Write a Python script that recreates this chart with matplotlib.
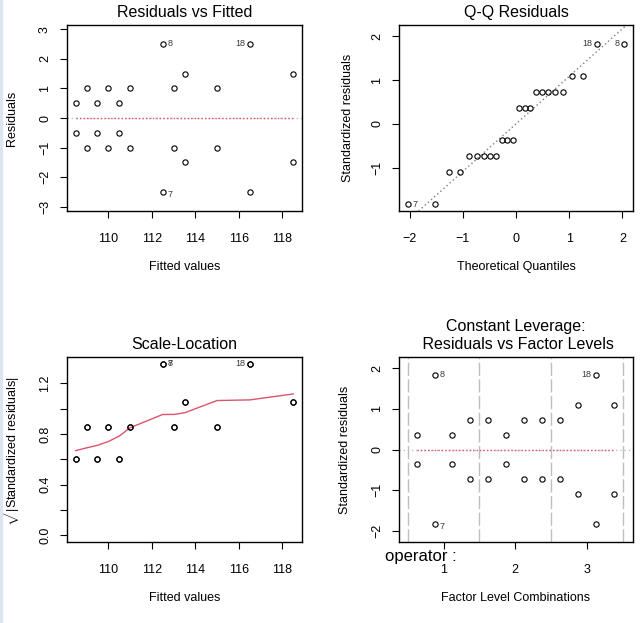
import numpy as np
import matplotlib
matplotlib.use("Agg")
import matplotlib.pyplot as plt
from matplotlib.patches import Rectangle

plt.rcParams["font.family"] = ["Liberation Sans", "DejaVu Sans"]
plt.rcParams["mathtext.fontset"] = "custom"
plt.rcParams["mathtext.rm"] = "Liberation Sans"

# one entry per observation (obs 1..24)
fitted = [108.5, 108.5, 109.5, 109.5, 109.0, 109.0, 112.5, 112.5,
          110.0, 110.0, 110.5, 110.5, 111.0, 111.0, 113.0, 113.0,
          116.5, 116.5, 115.0, 115.0, 113.5, 113.5, 118.5, 118.5]
resid = [0.5, -0.5, 0.5, -0.5, 1.0, -1.0, -2.5, 2.5,
         1.0, -1.0, 0.5, -0.5, 1.0, -1.0, 1.0, -1.0,
         -2.5, 2.5, 1.0, -1.0, 1.5, -1.5, 1.5, -1.5]
std_resid = [0.367, -0.367, 0.367, -0.367, 0.733, -0.733, -1.833, 1.833,
             0.733, -0.733, 0.367, -0.367, 0.733, -0.733, 0.733, -0.733,
             -1.833, 1.833, 0.733, -0.733, 1.1, -1.1, 1.1, -1.1]
factor_pos = [0.625, 0.625, 1.125, 1.125, 1.375, 1.375, 0.875, 0.875,
              1.625, 1.625, 1.875, 1.875, 2.125, 2.125, 2.375, 2.375,
              3.125, 3.125, 2.625, 2.625, 2.875, 2.875, 3.375, 3.375]

# theoretical quantiles
theo_q = [-2.04, -1.53, -1.26, -1.06, -0.89, -0.74, -0.61, -0.49,
          -0.37, -0.26, -0.16, -0.05, 0.05, 0.16, 0.26, 0.37,
          0.49, 0.61, 0.74, 0.89, 1.06, 1.26, 1.53, 2.04]
qq_label_rank = {7: 0, 18: 22, 8: 23}

# red smoother lines
rvf_smooth_x = [108.5, 118.5]
rvf_smooth_y = [0.0, 0.0]
sl_smooth_x = [108.5, 109.0, 109.5, 110.0, 110.5, 111.0, 112.5, 113.0,
               113.5, 115.0, 116.5, 118.5]
sl_smooth_y = [0.668, 0.69, 0.71, 0.74, 0.783, 0.849, 0.954, 0.954,
               0.967, 1.064, 1.069, 1.116]
fl_smooth_x = [0.625, 3.375]
fl_smooth_y = [0.0, 0.0]

label_ids = [7, 8, 18]
factor_levels = [1, 2, 3]

W, H = 643, 623
RED = "#DF536B"
GRAY = "#BEBEBE"
LBL = "#3a3a3a"

fig = plt.figure(figsize=(W / 100, H / 100), dpi=100)
fig.patches.append(Rectangle((0, 0), 2 / W, 1, transform=fig.transFigure,
                             color="#dce6f2", zorder=0))


def make_axes(box):
    x0, x1, y0, y1 = box
    ax = fig.add_axes([x0 / W, 1 - y1 / H, (x1 - x0) / W, (y1 - y0) / H])
    for s in ax.spines.values():
        s.set_linewidth(1.0)
    ax.tick_params(direction="out", length=5, width=0.8, labelsize=9)
    ax.tick_params(axis="x", pad=10.5)
    ax.tick_params(axis="y", pad=6.5)
    return ax


def finish(ax, box, title, xlabel, ylabel, ylab_x, xlab_y):
    x0, x1, y0, y1 = box
    for lbl in ax.get_yticklabels():
        lbl.set_rotation(90)
        lbl.set_va("center")
    ax.set_title(title, fontsize=11.5, pad=6)
    ax.set_xlabel(xlabel, fontsize=9, va="center")
    ax.set_ylabel(ylabel, fontsize=9, va="center")
    ax.xaxis.set_label_coords(0.5, -(xlab_y - y1) / (y1 - y0))
    ax.yaxis.set_label_coords(-(x0 - ylab_x) / (x1 - x0), 0.5)


def points(ax, x, y):
    ax.plot(x, y, "o", ms=3.8, mfc="none", mec="black", mew=0.8, zorder=3)


def label(ax, x, y, text, side, dy=0):
    off = 3.5 if side == "right" else -3.5
    ax.annotate(text, (x, y), xytext=(off, dy), textcoords="offset points",
                ha="left" if side == "right" else "right", va="center",
                fontsize=6.5, color=LBL)


# 1. Residuals vs Fitted
box1 = (67, 302, 25, 211)
ax1 = make_axes(box1)
ax1.axhline(0, color=GRAY, ls=(0, (1, 2)), lw=1)
ax1.plot(rvf_smooth_x, rvf_smooth_y, color=RED, lw=1, ls=(0, (1, 1.5)))
points(ax1, fitted, resid)
ax1.set_xlim(108.1, 118.9)
ax1.set_ylim(-3.14, 3.14)
ax1.set_xticks([110, 112, 114, 116, 118])
ax1.set_yticks([-3, -2, -1, 0, 1, 2, 3])
for i in label_ids:
    side = "right" if fitted[i - 1] < 114 else "left"
    label(ax1, fitted[i - 1], resid[i - 1], str(i), side,
          dy=-2 if resid[i - 1] < 0 else 0)
finish(ax1, box1, "Residuals vs Fitted", "Fitted values", "Residuals", 12, 267)

# 2. Q-Q Residuals
box2 = (399, 633, 25, 211)
ax2 = make_axes(box2)
sr_sorted = np.sort(std_resid)
q1, q3 = np.quantile(std_resid, [0.25, 0.75])
slope = (q3 - q1) / (2 * 0.6745)
ax2.axline((0, (q1 + q3) / 2), slope=slope, color="#7f7f7f",
           ls=(0, (1, 2)), lw=1)
points(ax2, theo_q, sr_sorted)
ax2.set_xlim(-2.2, 2.2)
ax2.set_ylim(-1.99, 2.26)
ax2.set_xticks([-2, -1, 0, 1, 2])
ax2.set_yticks([-1, 0, 1, 2])
for i, r in qq_label_rank.items():
    side = "right" if theo_q[r] < 0 else "left"
    label(ax2, theo_q[r], sr_sorted[r], str(i), side)
finish(ax2, box2, "Q-Q Residuals", "Theoretical Quantiles",
       "Standardized residuals", 348, 267)

# 3. Scale-Location
box3 = (67, 302, 357, 542)
ax3 = make_axes(box3)
sqrt_sr = np.sqrt(np.abs(std_resid))
ax3.plot(sl_smooth_x, sl_smooth_y, color=RED, lw=1)
points(ax3, fitted, sqrt_sr)
ax3.set_xlim(108.1, 118.9)
ax3.set_ylim(-0.054, 1.408)
ax3.set_xticks([110, 112, 114, 116, 118])
ax3.set_yticks([0.0, 0.2, 0.4, 0.6, 0.8, 1.0, 1.2])
ax3.set_yticklabels(["0.0", "", "0.4", "", "0.8", "", "1.2"])
for i in label_ids:
    side = "right" if fitted[i - 1] < 114 else "left"
    label(ax3, fitted[i - 1], sqrt_sr[i - 1], str(i), side)
finish(ax3, box3, "Scale-Location", "Fitted values",
       r"$\sqrt{|\mathrm{Standardized\ residuals}|}$", 11, 598)

# 4. Constant Leverage: Residuals vs Factor Levels
box4 = (399, 633, 357, 542)
ax4 = make_axes(box4)
for b in np.arange(0.5, len(factor_levels) + 1, 1.0):
    ax4.axvline(b, color=GRAY, lw=1, ls=(0, (9.5, 2.5)))
ax4.axhline(0, color=GRAY, ls=(0, (1, 2)), lw=1)
ax4.plot(fl_smooth_x, fl_smooth_y, color=RED, lw=1, ls=(0, (1, 1.5)))
points(ax4, factor_pos, std_resid)
ax4.set_xlim(0.38, 3.64)
ax4.set_ylim(-2.27, 2.27)
ax4.set_xticks(factor_levels)
ax4.set_yticks([-2, -1, 0, 1, 2])
for i in label_ids:
    side = "right" if factor_pos[i - 1] < 2 else "left"
    label(ax4, factor_pos[i - 1], std_resid[i - 1], str(i), side,
          dy=-2 if std_resid[i - 1] < 0 else 0)
finish(ax4, box4, "Constant Leverage:\n Residuals vs Factor Levels",
       "Factor Level Combinations", "Standardized residuals", 345, 598)
ax4.title.set_linespacing(1.25)
fig.text(457 / W, 1 - 556 / H, "operator :", ha="right", va="center",
         fontsize=12)

fig.savefig("out.png", dpi=100)
